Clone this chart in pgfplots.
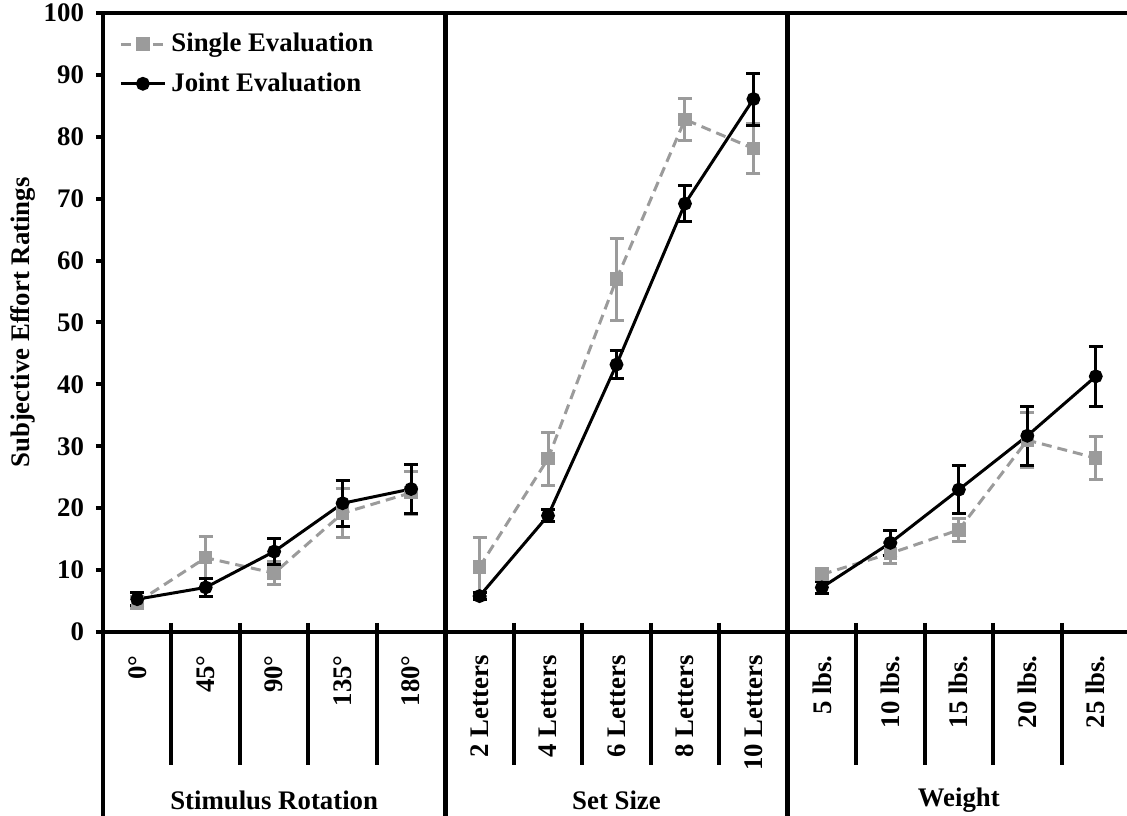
\documentclass[border=0pt]{standalone}
\usepackage{fontspec}
\setmainfont{Liberation Serif}
\usepackage{pgfplots}
\usepackage{pgfplotstable}
\pgfplotsset{compat=1.18}

\definecolor{sgray}{RGB}{155,155,155}

% columns: x, single mean, single s.e., joint mean, joint s.e.
\pgfplotstableread{
x s se j je
0 4.8 1.0 5.3 1.0
1 12.0 3.4 7.2 1.4
2 9.5 1.9 13.0 2.1
3 19.2 4.0 20.8 3.7
4 22.5 3.5 23.1 4.0
}\rotation
\pgfplotstableread{
x s se j je
5 10.5 4.7 5.8 0.5
6 28.0 4.3 18.8 1.0
7 57.0 6.6 43.2 2.3
8 82.8 3.4 69.2 2.9
9 78.1 4.0 86.1 4.2
}\setsize
\pgfplotstableread{
x s se j je
10 9.3 1.0 7.2 1.0
11 12.7 1.7 14.4 2.0
12 16.5 1.8 23.0 3.9
13 31.0 4.5 31.7 4.8
14 28.1 3.5 41.3 4.9
}\weight

\newcommand{\lbl}{\fontsize{13.4}{16}\selectfont\bfseries}

\pgfplotsset{
  single/.style={sgray, line width=1.5pt, dash pattern=on 5pt off 3pt,
    mark=square*, mark size=2.6pt, mark options={solid, fill=sgray},
    error bars/y dir=both, error bars/y explicit,
    error bars/error bar style={sgray, solid, line width=1.5pt},
    error bars/error mark options={rotate=90, sgray, solid, mark size=3.5pt, line width=1.5pt}},
  joint/.style={black, line width=1.5pt, solid,
    mark=*, mark size=2.7pt, mark options={solid, fill=black},
    error bars/y dir=both, error bars/y explicit,
    error bars/error bar style={black, solid, line width=1.5pt},
    error bars/error mark options={rotate=90, black, solid, mark size=3.5pt, line width=1.5pt}},
}

\begin{document}
\begin{tikzpicture}
\begin{axis}[
  scale only axis,
  width=513.5pt, height=309.5pt,
  xmin=-0.5, xmax=14.5,
  ymin=0, ymax=100,
  clip=false,
  axis x line=bottom, axis y line=left,
  axis line style={-, line width=2.4pt},
  ytick={0,10,...,100},
  tick align=outside,
  major tick length=3.5pt,
  ytick style={line width=2pt, black},
  xtick={0,...,14},
  xtick style={draw=none},
  xticklabels={0°,45°,90°,135°,180°,2 Letters,4 Letters,6 Letters,8 Letters,10 Letters,5 lbs.,10 lbs.,15 lbs.,20 lbs.,25 lbs.},
  xticklabel style={yshift=-8pt, rotate=90, anchor=east, font=\lbl, inner sep=0pt},
  yticklabel style={font=\lbl, xshift=-2.5pt},
  /pgf/number format/assume math mode=true,
  ylabel={Subjective Effort Ratings},
  ylabel style={font=\lbl, at={(axis description cs:-0.078,0.5)}, anchor=center},
  legend cell align=left,
  legend style={at={(axis description cs:0,1)}, anchor=north west,
    xshift=5pt, yshift=-8pt, draw=none, fill=none, font=\lbl,
    nodes={inner sep=0pt}, column sep=2.5pt, row sep=9pt},
  legend image code/.code={\draw[mark repeat=2,mark phase=2] plot coordinates {(0pt,0pt) (11pt,0pt) (22pt,0pt)};},
]
\addplot[single] table[x=x, y=s, y error=se] {\rotation};
\addlegendentry{Single Evaluation}
\addplot[single, forget plot] table[x=x, y=s, y error=se] {\setsize};
\addplot[single, forget plot] table[x=x, y=s, y error=se] {\weight};
\addplot[joint] table[x=x, y=j, y error=je] {\rotation};
\addlegendentry{Joint Evaluation}
\addplot[joint, forget plot] table[x=x, y=j, y error=je] {\setsize};
\addplot[joint, forget plot] table[x=x, y=j, y error=je] {\weight};

% frame: left line runs down past the axis, top line across
\draw[line width=2.4pt] ([yshift=-92pt]axis cs:-0.5,0) -- (axis cs:-0.5,100) -- (axis cs:14.5,100);
% group separators
\draw[line width=2.4pt] (axis cs:4.5,100) -- ([yshift=-92pt]axis cs:4.5,0);
\draw[line width=2.4pt] (axis cs:9.5,100) -- ([yshift=-92pt]axis cs:9.5,0);
% category dividers
\pgfplotsinvokeforeach{0.5,1.5,2.5,3.5,5.5,6.5,7.5,8.5,10.5,11.5,12.5,13.5}{
  \draw[line width=2pt] ([yshift=4.5pt]axis cs:#1,0) -- ([yshift=-66.5pt]axis cs:#1,0);
}
% group names
\node[font=\lbl] at ([yshift=-84pt]axis cs:2,0) {Stimulus Rotation};
\node[font=\lbl] at ([yshift=-84pt]axis cs:7,0) {Set Size};
\node[font=\lbl] at ([yshift=-84pt]axis cs:12,0) {Weight};

\coordinate (bl) at (axis cs:-0.5,0);
\coordinate (tr) at (axis cs:14.5,100);
\end{axis}
\pgfresetboundingbox
\useasboundingbox ([shift={(-51.5pt,-92pt)}]bl) rectangle ([shift={(-1.5pt,6.5pt)}]tr);
\end{tikzpicture}
\end{document}
